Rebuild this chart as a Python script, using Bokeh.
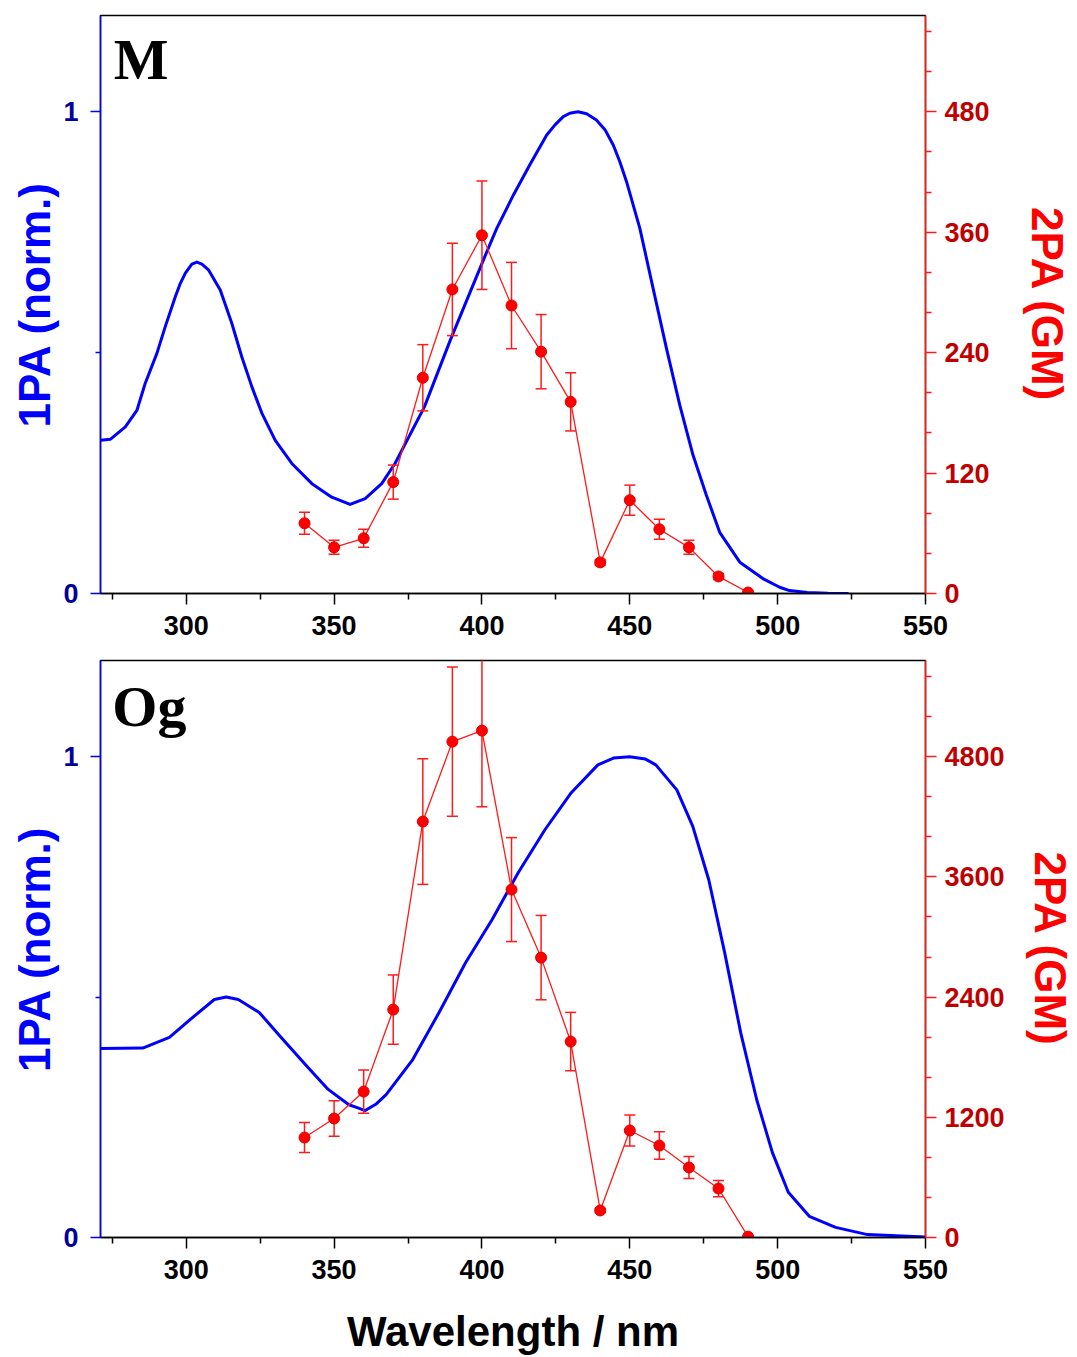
from bokeh.plotting import figure
from bokeh.models import Range1d, LinearAxis, FixedTicker, Label
from bokeh.layouts import column
from bokeh.embed import file_html
from bokeh.resources import INLINE

# ---------------- data ----------------
x_ticks = [300, 350, 400, 450, 500, 550]
x_minor = [275, 325, 375, 425, 475, 525]

wl_2pa = [340, 350, 360, 370, 380, 390, 400, 410, 420, 430, 440, 450, 460, 470, 480, 490]

# panel M
m_gm = [70, 46, 55, 111, 215, 303, 357, 287, 241, 191, 31, 93, 64, 46, 17, 1]
m_err = [11, 7, 9, 17, 33, 46, 54, 43, 37, 29, 3, 15, 10, 7, 3, 0]
m_abs_nm = [271, 274.3, 279.4, 283.3, 286.1, 290.1, 292.9, 296.3, 298.0, 299.7, 301.9,
            303.6, 305.3, 307.5, 311.5, 315.4, 318.8, 322.2, 325.6, 330.1, 335.7, 342.5,
            349.2, 355.4, 360.5, 366.1, 370.6, 380.5, 389.3, 401.0, 405.0, 410.6, 416.2,
            421.9, 424.7, 427.5, 429.7, 432.5, 435.4, 438.7, 441.6, 444.4, 446.6, 448.9,
            453.4, 457.9, 462.4, 466.9, 471.4, 475.9, 480.4, 487.2, 495.0, 500.7, 504.0,
            510.0, 517.0, 524.0]
m_abs = [0.318, 0.320, 0.346, 0.380, 0.436, 0.499, 0.554, 0.616, 0.644, 0.665, 0.684,
         0.688, 0.684, 0.672, 0.630, 0.561, 0.491, 0.429, 0.374, 0.318, 0.270, 0.228,
         0.200, 0.185, 0.197, 0.228, 0.270, 0.387, 0.526, 0.700, 0.758, 0.827, 0.890,
         0.952, 0.973, 0.990, 0.997, 1.000, 0.996, 0.983, 0.963, 0.931, 0.897, 0.855,
         0.758, 0.633, 0.509, 0.391, 0.287, 0.204, 0.127, 0.065, 0.031, 0.013, 0.006,
         0.002, 0.0005, 0.0]
m_gm_ticks = [0, 120, 240, 360, 480]
m_gm_minor = [40, 80, 160, 200, 280, 320, 400, 440, 520, 560]

# panel Og
og_gm = [998, 1188, 1457, 2275, 4152, 4950, 5060, 3473, 2794, 1956, 270, 1068, 918, 699, 489, 8]
og_err = [150, 178, 216, 346, 627, 745, 760, 519, 421, 291, 20, 155, 138, 110, 81, 0]
og_abs_nm = [271, 285.3, 294.3, 302.4, 309.5, 313.5, 317.6, 324.7, 331.8, 340.8, 348.0,
             355.0, 357.8, 360.5, 364.1, 367.6, 376.6, 385.5, 394.5, 403.4, 412.3, 421.3,
             430.2, 439.2, 444.5, 449.9, 455.3, 458.8, 465.9, 471.3, 476.7, 482.1, 487.5,
             492.9, 498.2, 503.6, 510.7, 519.6, 530.4, 550.0]
og_abs = [0.393, 0.394, 0.416, 0.459, 0.495, 0.500, 0.495, 0.468, 0.418, 0.356, 0.308,
          0.276, 0.270, 0.264, 0.277, 0.297, 0.370, 0.468, 0.572, 0.661, 0.759, 0.848,
          0.925, 0.983, 0.997, 1.000, 0.995, 0.983, 0.931, 0.855, 0.744, 0.592, 0.426,
          0.287, 0.177, 0.094, 0.044, 0.021, 0.006, 0.001]
og_gm_ticks = [0, 1200, 2400, 3600, 4800]
og_gm_minor = [400, 800, 1600, 2000, 2800, 3200, 4000, 4400, 5200, 5600]

SANS = "Liberation Sans"
SERIF = "Liberation Serif"
BLUE = "#0000ff"
RED = "#ff1a1a"


def panel(name, name_x, name_y, abs_nm, abs_val, gm, err, gm_max, gm_ticks, gm_minor,
          height, top, bottom, right_standoff, xlabel=None):
    p = figure(width=1077, height=height, output_backend="svg", toolbar_location=None,
               x_range=Range1d(271, 550), y_range=Range1d(0, 1.2),
               min_border_left=100, min_border_right=152,
               min_border_top=top, min_border_bottom=bottom,
               background_fill_color="white", border_fill_color="white")
    p.outline_line_color = "black"
    p.outline_line_width = 1.5
    p.xgrid.visible = False
    p.ygrid.visible = False
    p.extra_y_ranges = {"gm": Range1d(0, gm_max)}

    # x axis
    xa = p.xaxis[0]
    xa.ticker = FixedTicker(ticks=x_ticks, minor_ticks=x_minor)
    xa.axis_line_color = "black"
    xa.axis_line_width = 1.5
    xa.major_tick_line_color = "black"
    xa.minor_tick_line_color = "black"
    xa.major_tick_line_width = 1.5
    xa.minor_tick_line_width = 1.5
    xa.major_tick_in = 0
    xa.major_tick_out = 11
    xa.minor_tick_in = 0
    xa.minor_tick_out = 6
    xa.major_label_text_font = SANS
    xa.major_label_text_font_style = "bold"
    xa.major_label_text_font_size = "27px"
    xa.major_label_text_color = "black"
    xa.major_label_standoff = 11
    if xlabel:
        xa.axis_label = xlabel
        xa.axis_label_text_font = SANS
        xa.axis_label_text_font_style = "bold"
        xa.axis_label_text_font_size = "42px"
        xa.axis_label_text_color = "black"
        xa.axis_label_standoff = 26

    # left axis
    ya = p.yaxis[0]
    ya.ticker = FixedTicker(ticks=[0, 1], minor_ticks=[0.5])
    ya.axis_line_color = BLUE
    ya.axis_line_width = 1.5
    ya.major_tick_line_color = BLUE
    ya.minor_tick_line_color = BLUE
    ya.major_tick_line_width = 1.5
    ya.minor_tick_line_width = 1.5
    ya.major_tick_in = 0
    ya.major_tick_out = 10
    ya.minor_tick_in = 0
    ya.minor_tick_out = 5
    ya.major_label_text_font = SANS
    ya.major_label_text_font_style = "bold"
    ya.major_label_text_font_size = "27px"
    ya.major_label_text_color = "#000099"
    ya.major_label_standoff = 12
    ya.axis_label = "1PA (norm.)"
    ya.axis_label_text_font = SANS
    ya.axis_label_text_font_style = "bold"
    ya.axis_label_text_font_size = "44px"
    ya.axis_label_text_color = BLUE
    ya.axis_label_standoff = 1

    # right axis
    ra = LinearAxis(y_range_name="gm", ticker=FixedTicker(ticks=gm_ticks, minor_ticks=gm_minor))
    ra.axis_line_color = RED
    ra.axis_line_width = 1.5
    ra.major_tick_line_color = RED
    ra.minor_tick_line_color = RED
    ra.major_tick_line_width = 1.5
    ra.minor_tick_line_width = 1.5
    ra.major_tick_in = 0
    ra.major_tick_out = 11
    ra.minor_tick_in = 0
    ra.minor_tick_out = 6
    ra.major_label_text_font = SANS
    ra.major_label_text_font_style = "bold"
    ra.major_label_text_font_size = "27px"
    ra.major_label_text_color = "#c00000"
    ra.major_label_standoff = 8
    ra.axis_label = "2PA (GM)"
    ra.axis_label_text_font = SANS
    ra.axis_label_text_font_style = "bold"
    ra.axis_label_text_font_size = "44px"
    ra.axis_label_text_color = "#ff0000"
    ra.axis_label_standoff = right_standoff
    p.add_layout(ra, "right")

    # 1PA curve
    p.line(abs_nm, abs_val, line_color=BLUE, line_width=3, line_join="round")

    # 2PA data with error bars
    lower = [g - e for g, e in zip(gm, err)]
    upper = [g + e for g, e in zip(gm, err)]
    p.line(wl_2pa, gm, line_color=RED, line_width=1.3, y_range_name="gm")
    p.segment(x0=wl_2pa, y0=lower, x1=wl_2pa, y1=upper, line_color=RED,
              line_width=1.5, y_range_name="gm")
    p.scatter(wl_2pa, upper, marker="dash", size=11, line_color=RED, line_width=1.5,
              y_range_name="gm")
    p.scatter(wl_2pa, lower, marker="dash", size=11, line_color=RED, line_width=1.5,
              y_range_name="gm")
    p.scatter(wl_2pa, gm, marker="circle", size=11, fill_color="#ff0000",
              line_color="#e00000", line_width=1, y_range_name="gm")

    p.add_layout(Label(x=name_x, y=name_y, text=name, text_font=SERIF,
                       text_font_style="bold", text_font_size="58px",
                       text_color="black", text_baseline="alphabetic"))
    return p


p1 = panel("M", 275.5, 1.108, m_abs_nm, m_abs, m_gm, m_err, 576, m_gm_ticks, m_gm_minor,
           height=655, top=15, bottom=62, right_standoff=30)
p2 = panel("Og", 275.0, 1.104, og_abs_nm, og_abs, og_gm, og_err, 5760, og_gm_ticks,
           og_gm_minor, height=702, top=5, bottom=119, right_standoff=18,
           xlabel="Wavelength / nm")

layout = column(p1, p2)
open("out.html", "w").write(file_html(layout, INLINE))
